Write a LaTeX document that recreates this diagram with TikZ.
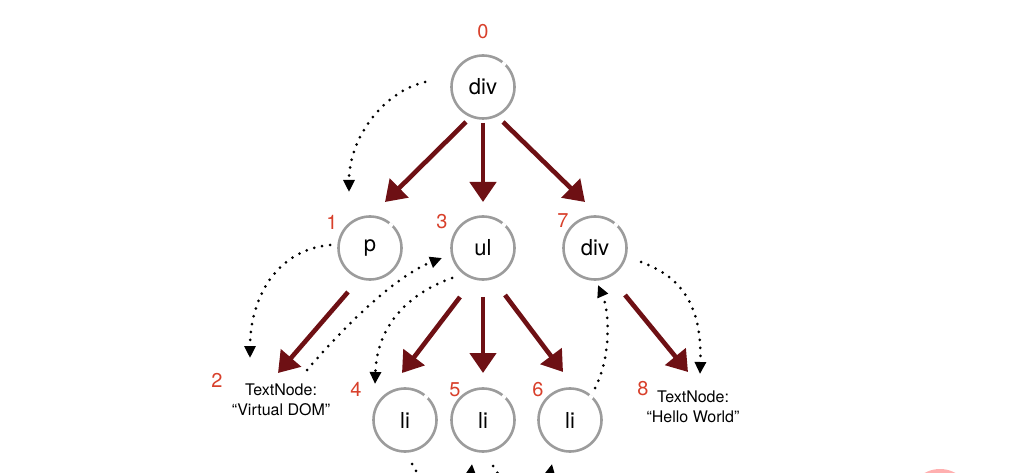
\documentclass[tikz,border=0pt]{standalone}
\usepackage{fontspec}
\setmainfont{TeX Gyre Heros}
\usetikzlibrary{arrows.meta,calc}
\definecolor{treered}{HTML}{6E1014}
\definecolor{numred}{HTML}{D8402B}
\definecolor{ringgray}{HTML}{9C9C9C}
\definecolor{blobpink}{HTML}{FFAFAF}
\tikzset{
  elem/.style={circle,draw=ringgray,line width=2.6pt,minimum size=63pt,inner sep=0pt,font=\fontsize{22}{24}\selectfont},
  num/.style={text=numred,font=\fontsize{20}{22}\selectfont,inner sep=0pt},
  txt/.style={align=center,font=\fontsize{16}{20}\selectfont,inner sep=0pt},
  child/.style={draw=treered,line width=4.6pt,-{Triangle[length=20pt,width=26pt]}},
  walk/.style={draw=black,line width=3pt,line cap=round,dash pattern=on 0pt off 8pt,-{Triangle[length=12pt,width=11pt]}},
}
\begin{document}
\begin{tikzpicture}[x=1pt,y=-1pt]
\useasboundingbox (0,0) rectangle (1018,473);
\fill[blobpink] (940,501) circle (32);
% nodes
\node[elem] (d0) at (483,87) {div};
\node[elem] (p) at (370,248) {p};
\node[elem] (ul) at (483,248) {ul};
\node[elem] (d7) at (595,248) {div};
\node[elem] (l4) at (405,420) {li};
\node[elem] (l5) at (483,420) {li};
\node[elem] (l6) at (570,420) {li};
\node[txt] (t2) at (281,400) {TextNode:\\``Virtual DOM''};
\node[txt] (t8) at (693,407) {TextNode:\\``Hello World''};
% gaps in rings
\foreach \n in {d0,p,ul,d7,l4,l5,l6}
  \draw[white,line width=3pt] ([shift={(-52:31.5)}]\n.center) arc[start angle=-52,end angle=-44,radius=31.5];
% numbers
\node[num] (n0) at (483,32) {0};
\node[num] (n1) at (332,222) {1};
\node[num] (n2) at (217,380) {2};
\node[num] (n3) at (442,222) {3};
\node[num] (n4) at (356,389) {4};
\node[num] (n5) at (455,390) {5};
\node[num] (n6) at (538,390) {6};
\node[num] (n7) at (563,221) {7};
\node[num] (n8) at (643,389) {8};
% coordinates at text ends
\coordinate (t2in) at (278,373);
\coordinate (t2out) at (307,370);
\coordinate (t8in) at (688,372);
\coordinate (t8dot) at (700,374);
\coordinate (t2dot) at (250,358);
% child arrows
\draw[child] ($(d0)+(-17,35)$) -- ($(p)+(15,-46)$);
\draw[child] ($(d0)+(0,36)$) -- ($(ul)+(0,-46)$);
\draw[child] ($(d0)+(20,35)$) -- ($(d7)+(-10,-46)$);
\draw[child] ($(p)+(-22,44)$) -- (t2in);
\draw[child] ($(ul)+(-23,49)$) -- ($(l4)+(-3,-47)$);
\draw[child] ($(ul)+(0,49)$) -- ($(l5)+(0,-47)$);
\draw[child] ($(ul)+(22,47)$) -- ($(l6)+(-7,-48)$);
\draw[child] ($(d7)+(30,47)$) -- (t8in);
% traversal (dotted)
\draw[walk] ($(d0)+(-58,-5)$) .. controls ($(d0)+(-100,5)$) and ($(p)+(-21,-110)$) .. ($(p)+(-21,-56)$);
\draw[walk] ($(p)+(-40,-3)$) .. controls ($(p)+(-95,2)$) and ($(p)+(-120,52)$) .. (t2dot);
\draw[walk] (t2out) .. controls ($(t2out)+(43,-50)$) and ($(ul)+(-85,27)$) .. ($(ul)+(-41,10)$);
\draw[walk] ($(ul)+(-31,30)$) .. controls ($(ul)+(-78,47)$) and ($(l4)+(-28,-92)$) .. ($(l4)+(-30,-36)$);
\draw[walk] ($(l6)+(25,-32)$) .. controls ($(l6)+(42,-65)$) and ($(d7)+(14,62)$) .. ($(d7)+(3,37)$);
\draw[walk] ($(d7)+(46,14)$) .. controls ($(d7)+(90,30)$) and ($(d7)+(107,62)$) .. (t8dot);
\begin{scope}
\clip (0,0) rectangle (1018,473);
\draw[walk] ($(l4)+(7,44)$) .. controls ($(l4)+(25,80)$) and ($(l5)+(-15,80)$) .. ($(l5)+(-11,44)$);
\draw[walk] ($(l5)+(10,46)$) .. controls ($(l5)+(30,80)$) and ($(l6)+(-25,80)$) .. ($(l6)+(-18,44)$);
\end{scope}
\end{tikzpicture}
\end{document}
